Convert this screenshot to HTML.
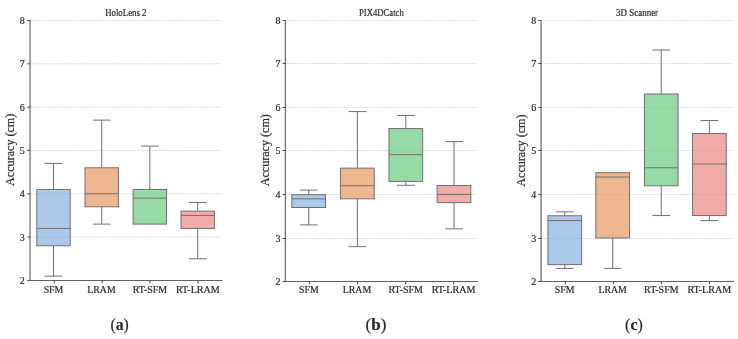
<!DOCTYPE html>
<html><head><meta charset="utf-8"><title>Accuracy box plots</title>
<style>html,body{margin:0;padding:0;background:#fff;}svg{display:block;will-change:transform;}text{font-family:"Liberation Serif",serif;fill:#262626;stroke:#262626;stroke-width:0.18px;}</style></head><body>
<svg width="738" height="339" viewBox="0 0 738 339">
<rect x="0" y="0" width="738" height="339" fill="#ffffff"/>
<g>
<line x1="30.05" x2="221.65" y1="237.12" y2="237.12" stroke="#bcbcbc" stroke-width="0.6" stroke-dasharray="1.9 1"/>
<line x1="30.05" x2="221.65" y1="193.78" y2="193.78" stroke="#bcbcbc" stroke-width="0.6" stroke-dasharray="1.9 1"/>
<line x1="30.05" x2="221.65" y1="150.45" y2="150.45" stroke="#bcbcbc" stroke-width="0.6" stroke-dasharray="1.9 1"/>
<line x1="30.05" x2="221.65" y1="107.12" y2="107.12" stroke="#bcbcbc" stroke-width="0.6" stroke-dasharray="1.9 1"/>
<line x1="30.05" x2="221.65" y1="63.78" y2="63.78" stroke="#bcbcbc" stroke-width="0.6" stroke-dasharray="1.9 1"/>
<line x1="30.05" x2="221.65" y1="20.45" y2="20.45" stroke="#bcbcbc" stroke-width="0.6" stroke-dasharray="1.9 1"/>
<line x1="53.5" x2="53.5" y1="189.45" y2="163.45" stroke="#6f6f6f" stroke-width="1.0"/>
<line x1="53.5" x2="53.5" y1="245.78" y2="276.12" stroke="#6f6f6f" stroke-width="1.0"/>
<line x1="44.6" x2="62.4" y1="163.45" y2="163.45" stroke="#6f6f6f" stroke-width="1.0"/>
<line x1="44.6" x2="62.4" y1="276.12" y2="276.12" stroke="#6f6f6f" stroke-width="1.0"/>
<rect x="36.8" y="189.45" width="33.4" height="56.33" fill="#87b2e1" fill-opacity="0.7" stroke="#6f6f6f" stroke-width="1.0"/>
<line x1="36.8" x2="70.2" y1="228.45" y2="228.45" stroke="#6f6f6f" stroke-width="1.0"/>
<line x1="101.7" x2="101.7" y1="167.78" y2="120.12" stroke="#6f6f6f" stroke-width="1.0"/>
<line x1="101.7" x2="101.7" y1="206.78" y2="224.12" stroke="#6f6f6f" stroke-width="1.0"/>
<line x1="92.8" x2="110.6" y1="120.12" y2="120.12" stroke="#6f6f6f" stroke-width="1.0"/>
<line x1="92.8" x2="110.6" y1="224.12" y2="224.12" stroke="#6f6f6f" stroke-width="1.0"/>
<rect x="85" y="167.78" width="33.4" height="39" fill="#e89863" fill-opacity="0.7" stroke="#6f6f6f" stroke-width="1.0"/>
<line x1="85" x2="118.4" y1="193.78" y2="193.78" stroke="#6f6f6f" stroke-width="1.0"/>
<line x1="149.8" x2="149.8" y1="189.45" y2="146.12" stroke="#6f6f6f" stroke-width="1.0"/>
<line x1="140.9" x2="158.7" y1="146.12" y2="146.12" stroke="#6f6f6f" stroke-width="1.0"/>
<rect x="133.1" y="189.45" width="33.4" height="34.67" fill="#6cca81" fill-opacity="0.7" stroke="#6f6f6f" stroke-width="1.0"/>
<line x1="133.1" x2="166.5" y1="198.12" y2="198.12" stroke="#6f6f6f" stroke-width="1.0"/>
<line x1="197.7" x2="197.7" y1="211.12" y2="202.45" stroke="#6f6f6f" stroke-width="1.0"/>
<line x1="197.7" x2="197.7" y1="228.45" y2="258.78" stroke="#6f6f6f" stroke-width="1.0"/>
<line x1="188.8" x2="206.6" y1="202.45" y2="202.45" stroke="#6f6f6f" stroke-width="1.0"/>
<line x1="188.8" x2="206.6" y1="258.78" y2="258.78" stroke="#6f6f6f" stroke-width="1.0"/>
<rect x="181" y="211.12" width="33.4" height="17.33" fill="#ec8783" fill-opacity="0.7" stroke="#6f6f6f" stroke-width="1.0"/>
<line x1="181" x2="214.4" y1="215.45" y2="215.45" stroke="#6f6f6f" stroke-width="1.0"/>
<line x1="30.05" x2="30.05" y1="20.15" y2="281.1" stroke="#6f6f6f" stroke-width="1.3"/>
<line x1="29.4" x2="222.35" y1="280.5" y2="280.5" stroke="#606060" stroke-width="1.1"/>
<line x1="27.25" x2="30.05" y1="280.45" y2="280.45" stroke="#454545" stroke-width="1"/>
<text x="24.75" y="283.95" font-size="10" text-anchor="end">2</text>
<line x1="27.25" x2="30.05" y1="237.12" y2="237.12" stroke="#454545" stroke-width="1"/>
<text x="24.75" y="240.62" font-size="10" text-anchor="end">3</text>
<line x1="27.25" x2="30.05" y1="193.78" y2="193.78" stroke="#454545" stroke-width="1"/>
<text x="24.75" y="197.28" font-size="10" text-anchor="end">4</text>
<line x1="27.25" x2="30.05" y1="150.45" y2="150.45" stroke="#454545" stroke-width="1"/>
<text x="24.75" y="153.95" font-size="10" text-anchor="end">5</text>
<line x1="27.25" x2="30.05" y1="107.12" y2="107.12" stroke="#454545" stroke-width="1"/>
<text x="24.75" y="110.62" font-size="10" text-anchor="end">6</text>
<line x1="27.25" x2="30.05" y1="63.78" y2="63.78" stroke="#454545" stroke-width="1"/>
<text x="24.75" y="67.28" font-size="10" text-anchor="end">7</text>
<line x1="27.25" x2="30.05" y1="20.45" y2="20.45" stroke="#454545" stroke-width="1"/>
<text x="24.75" y="23.95" font-size="10" text-anchor="end">8</text>
<line x1="54.25" x2="54.25" y1="280.45" y2="283.35" stroke="#454545" stroke-width="1"/>
<text x="43.65" y="292.6" font-size="10" textLength="19.7" lengthAdjust="spacingAndGlyphs">SFM</text>
<line x1="102.15" x2="102.15" y1="280.45" y2="283.35" stroke="#454545" stroke-width="1"/>
<text x="87.35" y="292.6" font-size="10" textLength="28.3" lengthAdjust="spacingAndGlyphs">LRAM</text>
<line x1="150.05" x2="150.05" y1="280.45" y2="283.35" stroke="#454545" stroke-width="1"/>
<text x="132.8" y="292.6" font-size="10" textLength="34.4" lengthAdjust="spacingAndGlyphs">RT-SFM</text>
<line x1="197.95" x2="197.95" y1="280.45" y2="283.35" stroke="#454545" stroke-width="1"/>
<text x="175.95" y="292.6" font-size="10" textLength="43.9" lengthAdjust="spacingAndGlyphs">RT-LRAM</text>
<text x="105.15" y="15.9" font-size="10" textLength="41.4" lengthAdjust="spacingAndGlyphs">HoloLens 2</text>
<text transform="translate(13.65 185.9) rotate(-90)" font-size="11.8" textLength="72.2" lengthAdjust="spacingAndGlyphs">Accuracy (cm)</text>
<text x="110.5" y="329.6" font-size="16.5" textLength="18.3" lengthAdjust="spacingAndGlyphs">(<tspan font-weight="bold">a</tspan>)</text>
</g>
<g>
<line x1="285.4" x2="477.4" y1="238.5" y2="238.5" stroke="#dadada" stroke-width="1" stroke-dasharray="1.9 1"/>
<line x1="285.4" x2="477.4" y1="194.5" y2="194.5" stroke="#dadada" stroke-width="1" stroke-dasharray="1.9 1"/>
<line x1="285.4" x2="477.4" y1="150.5" y2="150.5" stroke="#dadada" stroke-width="1" stroke-dasharray="1.9 1"/>
<line x1="285.4" x2="477.4" y1="107.5" y2="107.5" stroke="#dadada" stroke-width="1" stroke-dasharray="1.9 1"/>
<line x1="285.4" x2="477.4" y1="63.5" y2="63.5" stroke="#dadada" stroke-width="1" stroke-dasharray="1.9 1"/>
<line x1="285.4" x2="477.4" y1="20.5" y2="20.5" stroke="#dadada" stroke-width="1" stroke-dasharray="1.9 1"/>
<line x1="308.7" x2="308.7" y1="194.67" y2="190.1" stroke="#6f6f6f" stroke-width="1.0"/>
<line x1="308.7" x2="308.7" y1="207.5" y2="224.9" stroke="#6f6f6f" stroke-width="1.0"/>
<line x1="299.8" x2="317.6" y1="190.1" y2="190.1" stroke="#6f6f6f" stroke-width="1.0"/>
<line x1="299.8" x2="317.6" y1="224.9" y2="224.9" stroke="#6f6f6f" stroke-width="1.0"/>
<rect x="291.85" y="194.67" width="33.7" height="12.83" fill="#87b2e1" fill-opacity="0.7" stroke="#6f6f6f" stroke-width="1.0"/>
<line x1="291.85" x2="325.55" y1="198.8" y2="198.8" stroke="#6f6f6f" stroke-width="1.0"/>
<line x1="357.4" x2="357.4" y1="168.13" y2="111.58" stroke="#6f6f6f" stroke-width="1.0"/>
<line x1="357.4" x2="357.4" y1="198.8" y2="246.65" stroke="#6f6f6f" stroke-width="1.0"/>
<line x1="348.5" x2="366.3" y1="111.58" y2="111.58" stroke="#6f6f6f" stroke-width="1.0"/>
<line x1="348.5" x2="366.3" y1="246.65" y2="246.65" stroke="#6f6f6f" stroke-width="1.0"/>
<rect x="340.55" y="168.13" width="33.7" height="30.67" fill="#e89863" fill-opacity="0.7" stroke="#6f6f6f" stroke-width="1.0"/>
<line x1="340.55" x2="374.25" y1="185.75" y2="185.75" stroke="#6f6f6f" stroke-width="1.0"/>
<line x1="405.8" x2="405.8" y1="128.55" y2="115.5" stroke="#6f6f6f" stroke-width="1.0"/>
<line x1="405.8" x2="405.8" y1="181.4" y2="185.31" stroke="#6f6f6f" stroke-width="1.0"/>
<line x1="396.9" x2="414.7" y1="115.5" y2="115.5" stroke="#6f6f6f" stroke-width="1.0"/>
<line x1="396.9" x2="414.7" y1="185.31" y2="185.31" stroke="#6f6f6f" stroke-width="1.0"/>
<rect x="388.95" y="128.55" width="33.7" height="52.85" fill="#6cca81" fill-opacity="0.7" stroke="#6f6f6f" stroke-width="1.0"/>
<line x1="388.95" x2="422.65" y1="154.65" y2="154.65" stroke="#6f6f6f" stroke-width="1.0"/>
<line x1="454" x2="454" y1="185.53" y2="141.6" stroke="#6f6f6f" stroke-width="1.0"/>
<line x1="454" x2="454" y1="202.63" y2="228.81" stroke="#6f6f6f" stroke-width="1.0"/>
<line x1="445.1" x2="462.9" y1="141.6" y2="141.6" stroke="#6f6f6f" stroke-width="1.0"/>
<line x1="445.1" x2="462.9" y1="228.81" y2="228.81" stroke="#6f6f6f" stroke-width="1.0"/>
<rect x="437.15" y="185.53" width="33.7" height="17.1" fill="#ec8783" fill-opacity="0.7" stroke="#6f6f6f" stroke-width="1.0"/>
<line x1="437.15" x2="470.85" y1="194.45" y2="194.45" stroke="#6f6f6f" stroke-width="1.0"/>
<line x1="285.4" x2="285.4" y1="20.15" y2="282.1" stroke="#6f6f6f" stroke-width="1.3"/>
<line x1="284.75" x2="478.1" y1="281.5" y2="281.5" stroke="#606060" stroke-width="1.1"/>
<line x1="282.6" x2="285.4" y1="281.5" y2="281.5" stroke="#454545" stroke-width="1"/>
<text x="280.5" y="285" font-size="10" text-anchor="end">2</text>
<line x1="282.6" x2="285.4" y1="238.5" y2="238.5" stroke="#454545" stroke-width="1"/>
<text x="280.5" y="242" font-size="10" text-anchor="end">3</text>
<line x1="282.6" x2="285.4" y1="194.5" y2="194.5" stroke="#454545" stroke-width="1"/>
<text x="280.5" y="198" font-size="10" text-anchor="end">4</text>
<line x1="282.6" x2="285.4" y1="150.5" y2="150.5" stroke="#454545" stroke-width="1"/>
<text x="280.5" y="154" font-size="10" text-anchor="end">5</text>
<line x1="282.6" x2="285.4" y1="107.5" y2="107.5" stroke="#454545" stroke-width="1"/>
<text x="280.5" y="111" font-size="10" text-anchor="end">6</text>
<line x1="282.6" x2="285.4" y1="63.5" y2="63.5" stroke="#454545" stroke-width="1"/>
<text x="280.5" y="67" font-size="10" text-anchor="end">7</text>
<line x1="282.6" x2="285.4" y1="20.5" y2="20.5" stroke="#454545" stroke-width="1"/>
<text x="280.5" y="24" font-size="10" text-anchor="end">8</text>
<line x1="309.65" x2="309.65" y1="281.45" y2="284.35" stroke="#454545" stroke-width="1"/>
<text x="299.05" y="293.1" font-size="10" textLength="19.7" lengthAdjust="spacingAndGlyphs">SFM</text>
<line x1="357.65" x2="357.65" y1="281.45" y2="284.35" stroke="#454545" stroke-width="1"/>
<text x="342.85" y="293.1" font-size="10" textLength="28.3" lengthAdjust="spacingAndGlyphs">LRAM</text>
<line x1="405.65" x2="405.65" y1="281.45" y2="284.35" stroke="#454545" stroke-width="1"/>
<text x="388.4" y="293.1" font-size="10" textLength="34.4" lengthAdjust="spacingAndGlyphs">RT-SFM</text>
<line x1="453.65" x2="453.65" y1="281.45" y2="284.35" stroke="#454545" stroke-width="1"/>
<text x="431.65" y="293.1" font-size="10" textLength="43.9" lengthAdjust="spacingAndGlyphs">RT-LRAM</text>
<text x="359.05" y="15.9" font-size="10" textLength="44.7" lengthAdjust="spacingAndGlyphs">PIX4DCatch</text>
<text transform="translate(268.8 186.3) rotate(-90)" font-size="11.8" textLength="72.2" lengthAdjust="spacingAndGlyphs">Accuracy (cm)</text>
<text x="365.6" y="329.6" font-size="16.5" textLength="20.8" lengthAdjust="spacingAndGlyphs">(<tspan font-weight="bold">b</tspan>)</text>
</g>
<g>
<line x1="541.05" x2="733.17" y1="238.5" y2="238.5" stroke="#dadada" stroke-width="1" stroke-dasharray="1.9 1"/>
<line x1="541.05" x2="733.17" y1="194.5" y2="194.5" stroke="#dadada" stroke-width="1" stroke-dasharray="1.9 1"/>
<line x1="541.05" x2="733.17" y1="150.5" y2="150.5" stroke="#dadada" stroke-width="1" stroke-dasharray="1.9 1"/>
<line x1="541.05" x2="733.17" y1="107.5" y2="107.5" stroke="#dadada" stroke-width="1" stroke-dasharray="1.9 1"/>
<line x1="541.05" x2="733.17" y1="63.5" y2="63.5" stroke="#dadada" stroke-width="1" stroke-dasharray="1.9 1"/>
<line x1="541.05" x2="733.17" y1="20.5" y2="20.5" stroke="#dadada" stroke-width="1" stroke-dasharray="1.9 1"/>
<line x1="564.76" x2="564.76" y1="215.76" y2="211.85" stroke="#6f6f6f" stroke-width="1.0"/>
<line x1="564.76" x2="564.76" y1="264.62" y2="268.4" stroke="#6f6f6f" stroke-width="1.0"/>
<line x1="555.87" x2="573.66" y1="211.85" y2="211.85" stroke="#6f6f6f" stroke-width="1.0"/>
<line x1="555.87" x2="573.66" y1="268.4" y2="268.4" stroke="#6f6f6f" stroke-width="1.0"/>
<rect x="547.91" y="215.76" width="33.7" height="48.85" fill="#87b2e1" fill-opacity="0.7" stroke="#6f6f6f" stroke-width="1.0"/>
<line x1="547.91" x2="581.62" y1="220.55" y2="220.55" stroke="#6f6f6f" stroke-width="1.0"/>
<line x1="612.69" x2="612.69" y1="237.95" y2="268.4" stroke="#6f6f6f" stroke-width="1.0"/>
<line x1="603.79" x2="621.59" y1="268.4" y2="268.4" stroke="#6f6f6f" stroke-width="1.0"/>
<rect x="595.84" y="172.7" width="33.7" height="65.25" fill="#e89863" fill-opacity="0.7" stroke="#6f6f6f" stroke-width="1.0"/>
<line x1="595.84" x2="629.54" y1="177.05" y2="177.05" stroke="#6f6f6f" stroke-width="1.0"/>
<line x1="661.23" x2="661.23" y1="93.97" y2="50.03" stroke="#6f6f6f" stroke-width="1.0"/>
<line x1="661.23" x2="661.23" y1="185.75" y2="215.55" stroke="#6f6f6f" stroke-width="1.0"/>
<line x1="652.33" x2="670.12" y1="50.03" y2="50.03" stroke="#6f6f6f" stroke-width="1.0"/>
<line x1="652.33" x2="670.12" y1="215.55" y2="215.55" stroke="#6f6f6f" stroke-width="1.0"/>
<rect x="644.38" y="93.97" width="33.7" height="91.78" fill="#6cca81" fill-opacity="0.7" stroke="#6f6f6f" stroke-width="1.0"/>
<line x1="644.38" x2="678.08" y1="167.78" y2="167.78" stroke="#6f6f6f" stroke-width="1.0"/>
<line x1="709.4" x2="709.4" y1="133.55" y2="120.5" stroke="#6f6f6f" stroke-width="1.0"/>
<line x1="709.4" x2="709.4" y1="215.55" y2="220.55" stroke="#6f6f6f" stroke-width="1.0"/>
<line x1="700.5" x2="718.3" y1="120.5" y2="120.5" stroke="#6f6f6f" stroke-width="1.0"/>
<line x1="700.5" x2="718.3" y1="220.55" y2="220.55" stroke="#6f6f6f" stroke-width="1.0"/>
<rect x="692.55" y="133.55" width="33.7" height="82" fill="#ec8783" fill-opacity="0.7" stroke="#6f6f6f" stroke-width="1.0"/>
<line x1="692.55" x2="726.25" y1="164" y2="164" stroke="#6f6f6f" stroke-width="1.0"/>
<line x1="541.05" x2="541.05" y1="20.15" y2="282.1" stroke="#6f6f6f" stroke-width="1.3"/>
<line x1="540.4" x2="733.87" y1="281.5" y2="281.5" stroke="#606060" stroke-width="1.1"/>
<line x1="538.25" x2="541.05" y1="281.5" y2="281.5" stroke="#454545" stroke-width="1"/>
<text x="536.35" y="285" font-size="10" text-anchor="end">2</text>
<line x1="538.25" x2="541.05" y1="238.5" y2="238.5" stroke="#454545" stroke-width="1"/>
<text x="536.35" y="242" font-size="10" text-anchor="end">3</text>
<line x1="538.25" x2="541.05" y1="194.5" y2="194.5" stroke="#454545" stroke-width="1"/>
<text x="536.35" y="198" font-size="10" text-anchor="end">4</text>
<line x1="538.25" x2="541.05" y1="150.5" y2="150.5" stroke="#454545" stroke-width="1"/>
<text x="536.35" y="154" font-size="10" text-anchor="end">5</text>
<line x1="538.25" x2="541.05" y1="107.5" y2="107.5" stroke="#454545" stroke-width="1"/>
<text x="536.35" y="111" font-size="10" text-anchor="end">6</text>
<line x1="538.25" x2="541.05" y1="63.5" y2="63.5" stroke="#454545" stroke-width="1"/>
<text x="536.35" y="67" font-size="10" text-anchor="end">7</text>
<line x1="538.25" x2="541.05" y1="20.5" y2="20.5" stroke="#454545" stroke-width="1"/>
<text x="536.35" y="24" font-size="10" text-anchor="end">8</text>
<line x1="565.31" x2="565.31" y1="281.45" y2="284.35" stroke="#454545" stroke-width="1"/>
<text x="554.71" y="293.1" font-size="10" textLength="19.7" lengthAdjust="spacingAndGlyphs">SFM</text>
<line x1="613.34" x2="613.34" y1="281.45" y2="284.35" stroke="#454545" stroke-width="1"/>
<text x="598.54" y="293.1" font-size="10" textLength="28.3" lengthAdjust="spacingAndGlyphs">LRAM</text>
<line x1="661.38" x2="661.38" y1="281.45" y2="284.35" stroke="#454545" stroke-width="1"/>
<text x="644.12" y="293.1" font-size="10" textLength="34.4" lengthAdjust="spacingAndGlyphs">RT-SFM</text>
<line x1="709.4" x2="709.4" y1="281.45" y2="284.35" stroke="#454545" stroke-width="1"/>
<text x="687.4" y="293.1" font-size="10" textLength="43.9" lengthAdjust="spacingAndGlyphs">RT-LRAM</text>
<text x="616.11" y="15.9" font-size="10" textLength="42" lengthAdjust="spacingAndGlyphs">3D Scanner</text>
<text transform="translate(524.6 186.7) rotate(-90)" font-size="11.8" textLength="72.2" lengthAdjust="spacingAndGlyphs">Accuracy (cm)</text>
<text x="625.1" y="329.6" font-size="16.5" textLength="17.7" lengthAdjust="spacingAndGlyphs">(<tspan font-weight="bold">c</tspan>)</text>
</g>
</svg></body></html>
